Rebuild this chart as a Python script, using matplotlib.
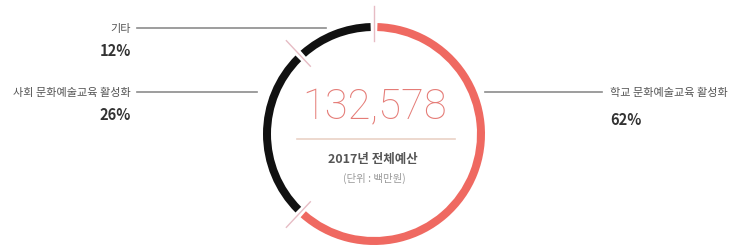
import numpy as np
import matplotlib
matplotlib.use('Agg')
import matplotlib.pyplot as plt
from matplotlib.patches import Wedge

plt.rcParams['font.family'] = ['Noto Sans CJK KR', 'DejaVu Sans']

# 데이터: 2017 전체예산 구성 (단위: 백만원)
categories = ['학교 문화예술교육 활성화', '사회 문화예술교육 활성화', '기타']
shares = [62, 26, 12]
total_budget = 132578
year = 2017
seg_colors = ['#ef6961', '#111111', '#111111']

W, H = 733, 253
fig = plt.figure(figsize=(W / 100, H / 100), dpi=100)
ax = fig.add_axes([0, 0, 1, 1])
ax.set_xlim(0, W)
ax.set_ylim(H, 0)  # 화면 좌표처럼 위에서 아래로
ax.axis('off')

cx, cy = 374, 135
r_out, ring_w = 111, 8
gap = 1.8  # 각 경계의 틈 (도)

# y축이 뒤집혀 있으므로 각도가 증가하면 시계방향, 시작은 12시(-90도)
start = -90.0
bounds = []
for share, col in zip(shares, seg_colors):
    span = share / 100 * 360
    ax.add_patch(Wedge((cx, cy), r_out, start + gap, start + span - gap,
                       width=ring_w, facecolor=col, edgecolor='none'))
    bounds.append(start)
    start += span

# 경계 눈금
for a in bounds:
    t = np.deg2rad(a)
    ax.plot([cx + 93 * np.cos(t), cx + 128 * np.cos(t)],
            [cy + 93 * np.sin(t), cy + 128 * np.sin(t)],
            color='#e6bcc4', lw=1)

# 가운데 텍스트
ax.text(cx + 1, 108, f'{total_budget:,}', ha='center', va='center',
        fontsize=30, color='#e57c77', family=['Roboto', 'DejaVu Sans'],
        fontweight='light')
ax.plot([297, 455], [140, 140], color='#ead2c6', lw=1.2)
ax.text(cx - 1, 160, f'{year}년 전체예산', ha='center', va='center',
        fontsize=9, fontweight='bold', color='#555555')
ax.text(cx, 178, '(단위 : 백만원)', ha='center', va='center',
        fontsize=7.5, color='#9a9a9a')

# 라벨과 지시선
line_col = '#8c8c8c'
# 기타
ax.plot([137, 326], [29, 29], color=line_col, lw=1.2)
ax.text(131, 29, categories[2], ha='right', va='center', fontsize=8, color='#555555')
ax.text(131, 51, f'{shares[2]}%', ha='right', va='center', fontsize=10.5,
        fontweight='bold', color='#333333')
# 사회
ax.plot([137, 257], [93, 93], color=line_col, lw=1.2)
ax.text(131, 93, categories[1], ha='right', va='center', fontsize=8, color='#555555')
ax.text(131, 115, f'{shares[1]}%', ha='right', va='center', fontsize=10.5,
        fontweight='bold', color='#333333')
# 학교
ax.plot([485, 602], [93, 93], color=line_col, lw=1.2)
ax.text(610, 93, categories[0], ha='left', va='center', fontsize=8, color='#555555')
ax.text(610, 120, f'{shares[0]}%', ha='left', va='center', fontsize=10.5,
        fontweight='bold', color='#333333')

fig.savefig('out.png', dpi=100)
